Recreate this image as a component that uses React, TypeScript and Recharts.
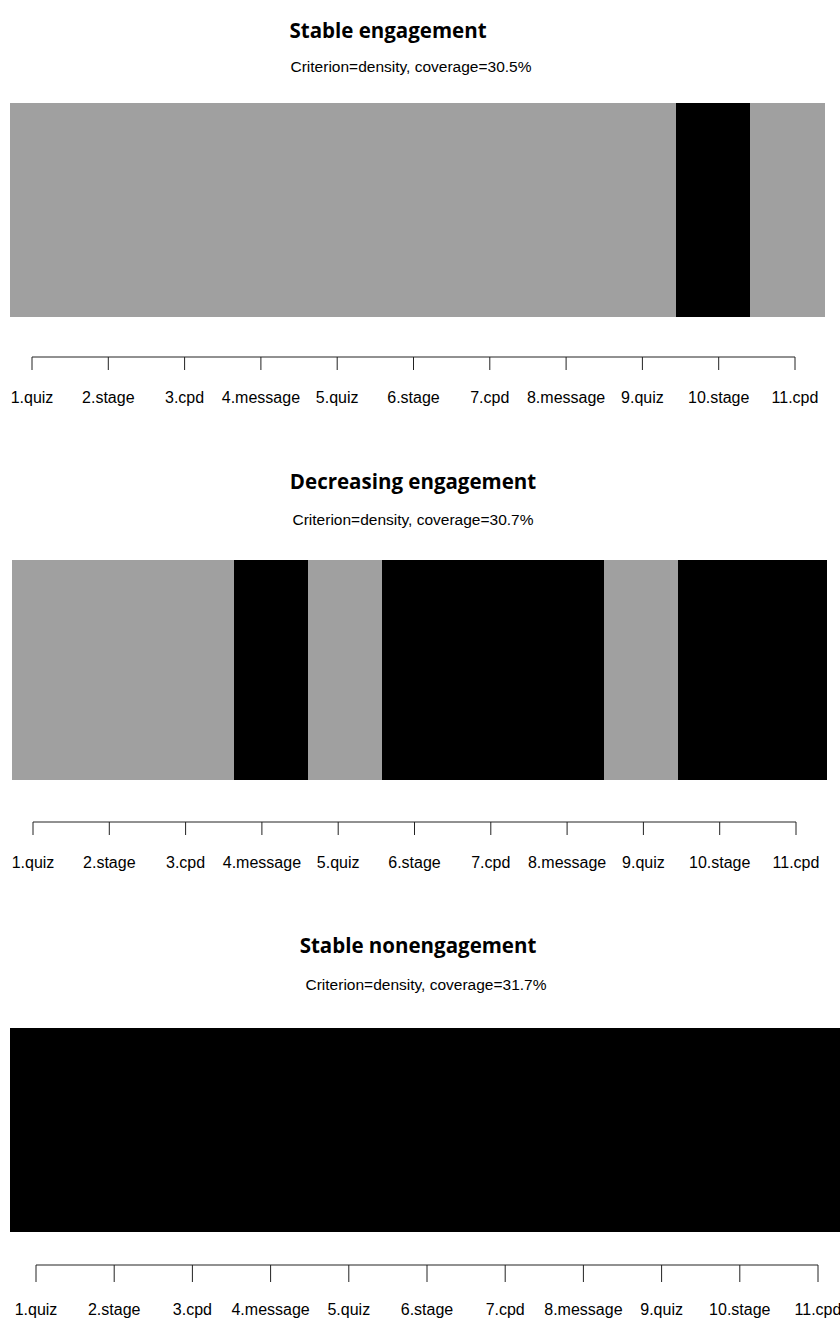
import React from 'react';
import { BarChart, Bar, XAxis, YAxis, Cell } from 'recharts';

// sequence positions shown on the axis
const positions = ['1.quiz', '2.stage', '3.cpd', '4.message', '5.quiz', '6.stage', '7.cpd', '8.message', '9.quiz', '10.stage', '11.cpd'];
const tickValues = [1, 2, 3, 4, 5, 6, 7, 8, 9, 10, 11];

// E = engaged (grey), N = not engaged (black)
const stableEngagement = ['E', 'E', 'E', 'E', 'E', 'E', 'E', 'E', 'E', 'N', 'E'];
const decreasingEngagement = ['E', 'E', 'E', 'N', 'E', 'N', 'N', 'N', 'E', 'N', 'N'];
const stableNonengagement = ['N', 'N', 'N', 'N', 'N', 'N', 'N', 'N', 'N', 'N', 'N'];

const titles = ['Stable engagement', 'Decreasing engagement', 'Stable nonengagement'];
const coverages = ['30.5%', '30.7%', '31.7%'];

const stateColor: Record<string, string> = { E: '#a0a0a0', N: '#000000' };

interface Layout {
  titleY: number;
  titleX: number;
  subY: number;
  subX: number;
  barTop: number;
  barBottom: number;
  barLeft: number;
  barRight: number;
  axisY: number;
  tickFirst: number;
  tickLast: number;
  tickSize: number;
  labelY: number;
}

const layouts: Layout[] = [
  { titleY: 30, titleX: 388, subY: 67, subX: 411, barTop: 103, barBottom: 317, barLeft: 10, barRight: 825, axisY: 357, tickFirst: 32, tickLast: 795, tickSize: 13, labelY: 398 },
  { titleY: 481, titleX: 413, subY: 520, subX: 413, barTop: 560, barBottom: 780, barLeft: 12, barRight: 826, axisY: 822, tickFirst: 33, tickLast: 796, tickSize: 13, labelY: 863 },
  { titleY: 945, titleX: 418, subY: 985, subX: 426, barTop: 1028, barBottom: 1232, barLeft: 10, barRight: 840, axisY: 1265, tickFirst: 36, tickLast: 818, tickSize: 17, labelY: 1310 },
];

const Panel: React.FC<{ states: string[]; title: string; coverage: string; lay: Layout }> = ({ states, title, coverage, lay }) => {
  const data = positions.map((label, i) => ({ label, idx: i + 1, seg: 1, state: states[i] }));
  const tickMargin = lay.labelY - 6 - lay.axisY - lay.tickSize;

  return (
    <>
      <div
        style={{
          position: 'absolute', top: lay.titleY - 15, left: lay.titleX - 200, width: 400, textAlign: 'center',
          fontFamily: '"Open Sans", sans-serif', fontWeight: 700, fontSize: 20.5, lineHeight: '30px', color: '#000',
        }}
      >
        {title}
      </div>
      <div
        style={{
          position: 'absolute', top: lay.subY - 10, left: lay.subX - 200, width: 400, textAlign: 'center',
          fontFamily: '"Liberation Sans", Arial, sans-serif', fontSize: 15.5, lineHeight: '20px', color: '#000',
        }}
      >
        {`Criterion=density, coverage=${coverage}`}
      </div>
      <div style={{ position: 'absolute', top: lay.barTop, left: 0 }}>
        <BarChart
          width={840}
          height={lay.barBottom - lay.barTop}
          data={data}
          barCategoryGap={0}
          margin={{ top: 0, right: 840 - lay.barRight, bottom: 0, left: lay.barLeft }}
        >
          <YAxis hide domain={[0, 1]} />
          <XAxis dataKey="label" hide />
          <Bar dataKey="seg" isAnimationActive={false}>
            {data.map((d) => (
              <Cell
                key={d.label}
                fill={stateColor[d.state]}
                stroke={stateColor[d.state]}
                strokeWidth={1}
                shapeRendering="crispEdges"
              />
            ))}
          </Bar>
        </BarChart>
      </div>
      <div style={{ position: 'absolute', top: lay.axisY - 1, left: 0 }}>
        <BarChart
          width={840}
          height={61}
          data={data}
          margin={{ top: 0, right: 840 - lay.tickLast, bottom: 0, left: lay.tickFirst }}
        >
          <YAxis hide domain={[0, 1]} />
          <XAxis
            type="number"
            dataKey="idx"
            domain={[1, 11]}
            ticks={tickValues}
            interval={0}
            tickFormatter={(v: number) => positions[v - 1]}
            tickSize={lay.tickSize}
            tickMargin={tickMargin}
            height={60}
            stroke="#222"
            tick={{ fill: '#000', fontSize: 16, fontFamily: '"Liberation Sans", Arial, sans-serif' }}
          />
        </BarChart>
      </div>
    </>
  );
};

export default function App() {
  return (
    <div style={{ position: 'absolute', top: 0, left: 0, width: 840, height: 1320, background: '#fff', overflow: 'hidden' }}>
      <Panel states={stableEngagement} title={titles[0]} coverage={coverages[0]} lay={layouts[0]} />
      <Panel states={decreasingEngagement} title={titles[1]} coverage={coverages[1]} lay={layouts[1]} />
      <Panel states={stableNonengagement} title={titles[2]} coverage={coverages[2]} lay={layouts[2]} />
    </div>
  );
}
